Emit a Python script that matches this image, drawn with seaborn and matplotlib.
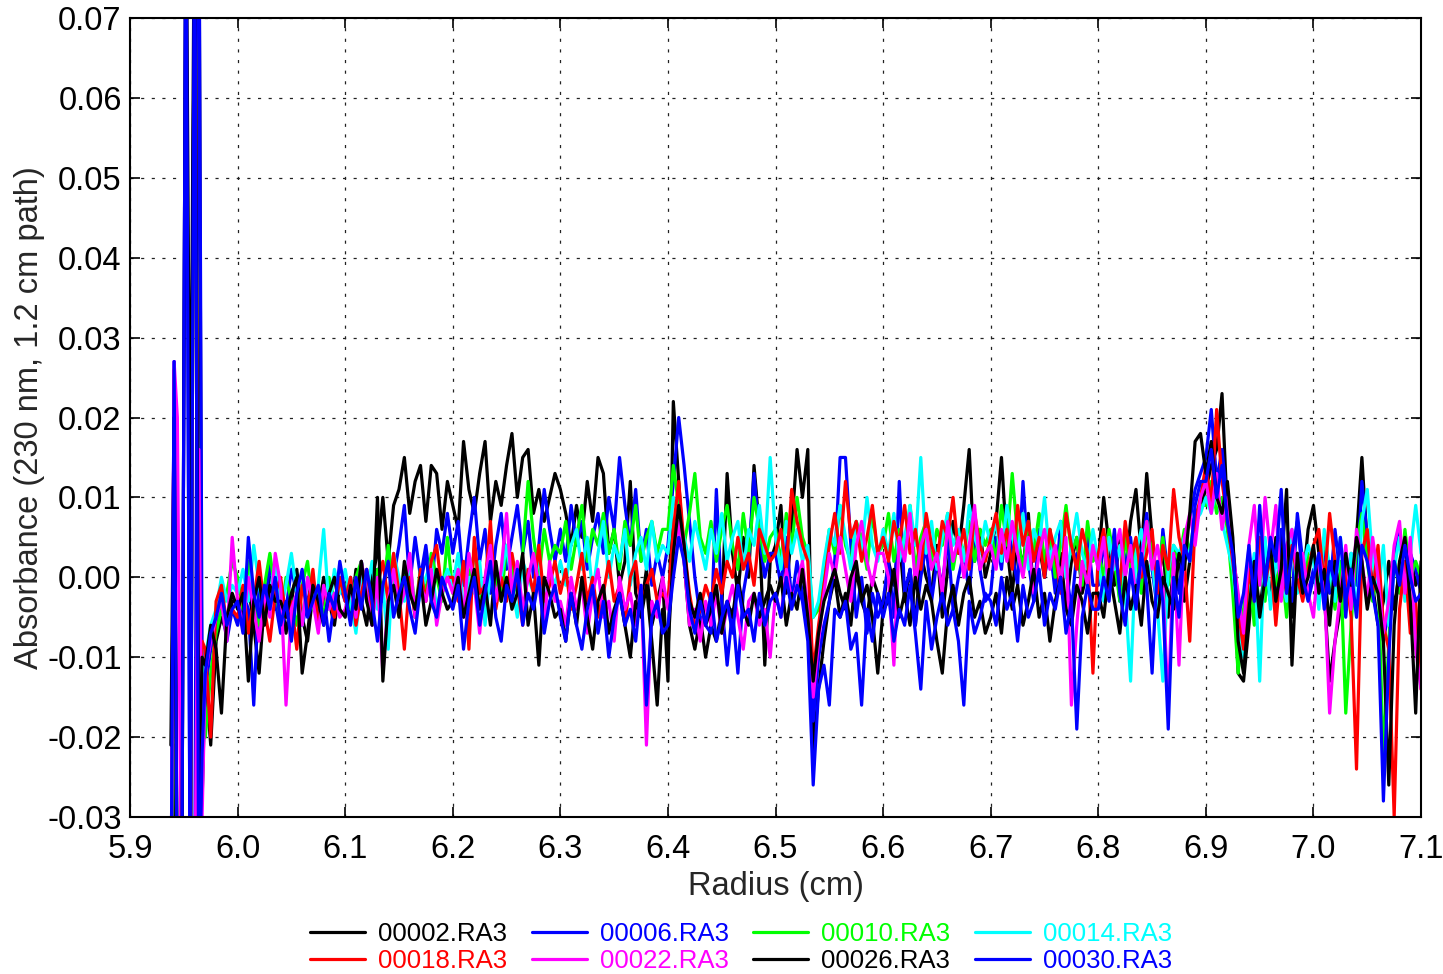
import numpy as np
import matplotlib
matplotlib.use("Agg")
import matplotlib.pyplot as plt
import seaborn as sns

# radius grid (cm)
radius = [5.938, 5.941, 5.944, 5.948, 5.952, 5.956, 5.960, 5.964, 5.967,
          5.970, 5.975, 5.980, 5.985, 5.990, 5.995,
          6.000, 6.005, 6.010, 6.015, 6.020, 6.025, 6.030, 6.035, 6.040, 6.045,
          6.050, 6.055, 6.060, 6.065, 6.070, 6.075, 6.080, 6.085, 6.090, 6.095,
          6.100, 6.105, 6.110, 6.115, 6.120, 6.125, 6.130, 6.135, 6.140, 6.145,
          6.150, 6.155, 6.160, 6.165, 6.170, 6.175, 6.180, 6.185, 6.190, 6.195,
          6.200, 6.205, 6.210, 6.215, 6.220, 6.225, 6.230, 6.235, 6.240, 6.245,
          6.250, 6.255, 6.260, 6.265, 6.270, 6.275, 6.280, 6.285, 6.290, 6.295,
          6.300, 6.305, 6.310, 6.315, 6.320, 6.325, 6.330, 6.335, 6.340, 6.345,
          6.350, 6.355, 6.360, 6.365, 6.370, 6.375, 6.380, 6.385, 6.390, 6.395,
          6.400, 6.405, 6.410, 6.415, 6.420, 6.425, 6.430, 6.435, 6.440, 6.445,
          6.450, 6.455, 6.460, 6.465, 6.470, 6.475, 6.480, 6.485, 6.490, 6.495,
          6.500, 6.505, 6.510, 6.515, 6.520, 6.525, 6.530, 6.535, 6.540, 6.545,
          6.550, 6.555, 6.560, 6.565, 6.570, 6.575, 6.580, 6.585, 6.590, 6.595,
          6.600, 6.605, 6.610, 6.615, 6.620, 6.625, 6.630, 6.635, 6.640, 6.645,
          6.650, 6.655, 6.660, 6.665, 6.670, 6.675, 6.680, 6.685, 6.690, 6.695,
          6.700, 6.705, 6.710, 6.715, 6.720, 6.725, 6.730, 6.735, 6.740, 6.745,
          6.750, 6.755, 6.760, 6.765, 6.770, 6.775, 6.780, 6.785, 6.790, 6.795,
          6.800, 6.805, 6.810, 6.815, 6.820, 6.825, 6.830, 6.835, 6.840, 6.845,
          6.850, 6.855, 6.860, 6.865, 6.870, 6.875, 6.880, 6.885, 6.890, 6.895,
          6.900, 6.905, 6.910, 6.915, 6.920, 6.925, 6.930, 6.935, 6.940, 6.945,
          6.950, 6.955, 6.960, 6.965, 6.970, 6.975, 6.980, 6.985, 6.990, 6.995,
          7.000, 7.005, 7.010, 7.015, 7.020, 7.025, 7.030, 7.035, 7.040, 7.045,
          7.050, 7.055, 7.060, 7.065, 7.070, 7.075, 7.080, 7.085, 7.090, 7.095,
          7.100]

# absorbance in milli-AU
a00002 = [-45, -21, -45, -45, -45, -45, 90, 90, -28,
          -12, -21, -8, -5, -7, -3,
          -3, -5, -1, -6, -12, -3, 0, -4, -2, -7, -3, 1, -5, -8, -2, -4, 0, -3, -6, -1,
          -2, -5, 1, -3, -6, 0, 3, 10, 2, 9, 11, 15, 8, 12, 14, 7, 14, 13, 6, 12,
          9, 6, 17, 11, 8, 13, 17, 7, 12, 9, 14, 18, 10, 15, 16, 8, 11, 7, 10, 13,
          11, 8, 4, 9, 5, 12, 7, 15, 13, 3, 6, -1, 2, 12, -2, -4, 1, -6, -3, 0,
          -13, 22, 12, 2, -6, -9, -5, -10, -6, -8, -4, 13, 3, -2, 5, 0, 14, 6, -11, 2,
          4, 9, -2, 6, 16, 10, 16, -22, -14, -8, -3, 0, -5, -2, -6, 1, -3, -5, 0, -2,
          -4, 2, -1, 5, -3, 1, -6, 3, 0, -2, 4, -5, 1, 7, 3, 9, 16, 2, 6, 0,
          3, 7, 15, 4, -2, 5, 1, 8, -3, 4, 0, 6, -1, 3, -4, 2, 5, -2, 1, 4,
          2, 10, 4, -1, 5, 0, 7, 11, 3, 13, 5, -2, 4, -5, 1, 3, -3, 2, 6, 9,
          11, 14, 16, 23, 8, 3, -12, -13, -6, 2, -4, 1, -3, 5, -2, 0, -5, 3, -1, 6,
          9, 3, -2, -13, -8, -4, 2, -3, 5, 15, 4, -1, -6, -3, 2, -4, 1, -2, 3, -1,
          1]
a00006 = [-45, 27, -45, -45, 90, -45, -45, 90, -12,
          -14, -9, -6, -3, -8, -4,
          -6, -2, -4, -16, -1, -5, 2, -3, -7, -4, 1, -2, -6, -3, 0, -5, -2, -8, -3, -1,
          -3, 0, -5, 2, -2, -6, 1, -3, 3, 0, 4, 9, -1, 5, 0, 4, -2, 6, 3, 8,
          3, 7, -1, 5, 10, 2, 6, -2, 4, 8, 1, 5, 9, 3, 7, 0, 4, 11, 6, 2,
          6, 2, 9, 4, 7, 1, 5, 8, 3, 10, 6, 15, 9, 4, 11, 2, 6, -1, 3, 0,
          4, 12, 20, 14, 7, 0, -5, -6, -7, 11, -3, -11, -4, -12, -2, 2, 13, 5, 0, 3,
          3, -1, 5, -3, 2, -2, -6, -18, -10, -6, -3, 2, 15, 15, 4, -5, 0, -7, -2, -5,
          -3, 2, -5, 12, -2, 1, -6, 0, 4, -3, 2, -1, 5, -4, 0, 3, -2, 6, 1, -3,
          -2, 5, 1, 8, 3, -1, 12, 2, -3, 6, 0, 4, -2, 7, 1, -4, 3, 0, 5, -1,
          -1, 4, 0, 6, -3, 2, 5, -2, 3, 8, 1, -4, 6, 0, 3, -2, 5, 7, 11, 13,
          15, 21, 12, 16, 9, 4, -3, -7, 2, -5, 4, -1, 3, -4, 6, 1, -3, 8, 2, -2,
          1, -3, 4, -2, 6, 0, -5, 3, -1, 12, 5, -2, 3, -8, -4, 2, 6, -1, 3, 1,
          -2]
a00010 = [-45, 10, -45, -45, -45, -45, 90, -20, -15,
          -20, -12, -7, -4, -2, 2,
          0, -4, 2, -3, -6, -1, 3, -2, -5, 0, -3, -6, -1, 2, -4, -2, -5, 0, -3, -1,
          -1, -4, 0, 2, -3, -5, 1, -2, 4, -1, -3, 0, 2, -4, 1, -2, 3, 0, -3, 5,
          -2, 1, -4, 0, 3, -1, -5, 2, 0, -3, 4, 1, -2, 3, 12, 5, 0, 6, 2, 4,
          3, 7, 1, 5, 9, 2, 6, 4, 8, 3, 6, 1, 7, 4, 9, 2, 5, 7, 3, 6,
          6, 14, 9, 4, 8, 13, 5, 3, 7, 2, 6, 9, 4, 1, 8, 3, 10, 6, 2, 5,
          6, 2, 8, 4, 10, 5, 3, -5, -4, 1, 6, 3, 9, 4, 2, 7, 5, 1, 8, 3,
          4, 8, 2, 6, 3, 9, 1, 5, 7, 2, 6, 4, 8, 1, 5, 3, 7, 2, 6, 4,
          6, 2, 9, 4, 13, 5, 1, 7, 3, 8, 2, 6, 0, 4, 9, 3, 5, -1, 7, 2,
          3, 0, 6, 2, -3, 5, 1, 4, -2, 7, 3, 0, 5, -1, 4, 2, 6, 3, 8, 9,
          9, 12, 8, 10, 6, -2, -12, -4, 1, -6, 3, -3, 5, -1, 2, -5, 4, 0, -2, 3,
          3, -2, 5, 1, -4, 2, -17, -6, 4, 8, 2, -3, 1, -23, -8, 3, -2, 6, 0, 2,
          0]
a00014 = [-45, 20, -45, -45, -45, -45, -45, -30, -12,
          -10, -6, -4, 0, -3, -1,
          -2, 1, -3, 4, -1, -5, -2, 2, -4, -1, 3, -2, -6, 0, -3, -1, 6, -4, 1, -2,
          1, -3, -7, 0, -2, 2, -4, -1, -9, 3, 0, -3, 1, -5, -2, 0, 2, -4, -1, 1,
          -1, 3, -4, 0, -2, 2, -6, 1, -3, 0, 4, -1, -5, 2, 0, -2, 3, -4, 1, -1,
          2, -1, 4, 6, 1, 5, -2, 3, 7, 0, 4, 2, 6, -1, 3, 5, 1, 7, 2, 4,
          3, 10, 8, 5, 2, 7, 4, 1, 6, 3, 8, 2, 5, 7, 1, 6, 4, 9, 3, 15,
          5, 1, 7, 3, 6, 2, 4, -5, -3, 2, 6, 4, 9, 5, 1, 7, 3, 10, 4, 2,
          6, 3, 8, 2, 5, 9, 4, 15, 3, 7, 1, 5, 8, 4, 6, 2, 9, 5, 3, 7,
          4, 7, 2, 9, 5, 3, 8, 1, 6, 4, 10, 2, 5, 7, 0, 4, 8, 3, 1, 6,
          2, -3, 5, 1, 4, -2, -13, 3, 6, 0, 2, -4, -13, 1, 4, 3, 5, 2, 7, 8,
          10, 8, 11, 7, 4, 1, -6, -10, -2, 3, -13, 5, -4, 2, 0, -3, 6, -2, 1, 4,
          2, -4, 6, 1, -3, 5, -1, 3, -5, 7, 11, 2, -2, 4, -6, 1, 5, -3, 3, 9,
          3]
a00018 = [-45, 26, -45, -45, -45, -45, 90, -20, -8,
          -9, -20, -3, -1, -6, -4,
          -5, -1, -7, -3, 2, -4, -8, -2, 0, -5, -3, -9, -1, -4, 1, -6, -2, -3, -5, 0,
          -3, 0, -6, -2, 1, -4, -1, 2, -3, 3, -2, -9, 0, -5, 1, -3, 2, 4, -2, 0,
          0, -3, 2, -9, 5, -2, -1, 7, -4, 0, -3, 3, -1, -6, 1, -2, 4, -3, -1, 2,
          -2, 1, -4, -1, 3, -3, 0, -5, -2, 2, -3, -1, -6, 0, 2, -4, -1, 1, -3, -2,
          -3, 6, 12, 4, -2, -6, -4, -1, -3, 1, -2, 2, 0, 5, 1, 3, -1, 6, 4, 2,
          3, 6, 1, 11, 7, 4, 2, -12, -6, -1, 4, 8, 3, 12, 5, 7, 2, 5, 9, 3,
          5, 2, 7, 4, 9, 3, 6, 1, 8, 4, 2, 7, 5, 10, 3, 6, 1, 8, 4, 2,
          5, 8, 3, 6, 1, 9, 4, 7, 2, 5, 0, 6, 3, -2, 8, 4, 1, 6, 3, -12,
          3, 6, 1, 4, -1, 7, 2, 5, 0, 3, 6, -2, 4, 1, 11, 5, 2, -8, 7, 10,
          14, 9, 21, 12, 7, 2, -4, -9, 1, -3, 5, -1, 3, -6, 2, -2, 4, 0, -3, 1,
          4, 6, -1, 8, 2, -3, 1, -5, -24, 3, 6, -2, 4, -6, -9, -30, -4, 2, -7, -3,
          -14]
a00022 = [-45, 27, 20, -45, -45, -45, -45, 16, -30,
          -12, -8, -5, -3, -8, 5,
          -3, -6, 0, -4, -8, -2, -5, 3, -1, -16, -4, -2, -6, 0, -3, -7, -1, -4, -2, -5,
          -4, -1, -5, 2, -2, -6, 0, -12, -3, 1, -4, -2, 3, -5, -1, -3, 1, -6, -2, 0,
          -2, 1, -5, 3, -1, -7, 0, 4, -3, 1, 8, -2, 2, -4, 0, 3, -1, -6, 2, -3,
          -3, -6, 0, -4, -1, -7, -2, 1, -5, -3, -8, 0, -4, -2, -6, -1, -21, -3, -5, 0,
          -4, 1, 7, 2, -6, -4, -8, -3, -6, -2, -7, -4, -1, -5, -9, -3, -2, -6, -4, -10,
          -2, -5, 1, -3, -1, 2, -4, -15, -8, -2, 3, 0, 5, 1, -3, 4, 7, 2, -1, 3,
          3, 0, -11, 5, 2, 8, -1, 4, 6, 1, 3, -2, 7, 2, 5, 0, 4, 9, 1, 3,
          4, 1, 6, 2, 7, 3, 0, 5, -2, 3, 6, 1, 4, -1, 5, -16, -6, 2, -1, 4,
          1, 5, -2, 3, 6, 0, 4, -3, 2, 7, 1, 4, -1, -16, 3, -11, 5, 8, 4, 10,
          12, 8, 13, 6, 10, 3, -2, -7, 4, 9, -1, 10, 3, 9, -3, 4, 6, 0, 3, -2,
          -5, 3, -1, -17, -8, -2, 4, -4, 6, 2, -3, 5, 0, -7, -3, 4, 7, -2, 5, -9,
          -14]
a00026 = [-21, 20, -45, -45, 90, 2, 90, -27, -10,
          -11, -6, -9, -17, -5, -2,
          -4, -2, -13, -3, 0, -6, -1, -3, -3, -5, -2, 0, -12, -7, -1, -3, -6, -2, 0, -4,
          -5, -1, -4, 2, -3, -6, 10, -13, -3, -1, -5, 2, -2, -4, 0, -6, -3, 1, -2, -4,
          -3, 0, -5, -2, 1, -4, -1, -6, 2, -3, 0, -4, -2, 3, -6, -2, -11, 0, -2, -5,
          -4, -8, -2, -6, 0, -5, -9, -3, -1, -7, -4, -2, -6, -10, -3, -5, -1, -8, -16, -4,
          -9, 3, 9, 4, -3, -5, -2, -6, -4, -1, -7, -3, -5, 0, -4, -6, -2, -5, -3, -1,
          -3, 0, -6, -2, -4, 1, -5, -13, -7, -3, -1, 1, -2, -4, 0, 2, -3, -1, -5, -12,
          -4, -3, 1, -5, -2, -6, 0, -4, -1, -3, -8, -12, -4, -1, -6, -2, 0, -5, -3, -7,
          -5, -2, -7, 0, -4, -1, -6, -3, 1, -5, -2, -8, -3, 0, -4, -6, -1, -3, -7, -2,
          -2, -5, 1, -3, -7, 0, -4, -1, -6, 2, -3, -5, 0, -2, -4, 3, 1, 8, 17, 18,
          13, 17, 10, 8, 12, 5, -8, -12, -4, 2, -5, 0, 4, -3, 1, 11, -11, 3, -2, 0,
          4, -2, 1, -6, 2, -3, 3, -1, 5, 2, -4, 0, -2, -8, -26, -6, 2, 5, -3, -17,
          2]
a00030 = [-45, 27, -45, -45, 90, -45, 90, -45, -22,
          -12, -7, -5, -2, -6, -4,
          -3, -7, 5, -2, -5, -1, -4, 0, -6, -3, -8, -2, 1, -5, -3, -1, -6, -2, -4, 2,
          -2, -6, 0, -4, 1, -3, -8, -1, 2, -5, -2, 0, -4, -7, -1, 3, -3, -5, 0, -2,
          -4, -1, -9, -3, 0, -6, -2, 2, -5, -8, -1, -3, 1, -6, -2, -4, 0, -7, -3, -1,
          -5, -8, -2, -6, -9, -4, -1, -7, -3, -10, -5, -2, -6, -4, -8, -1, -16, -5, -3, -7,
          -6, 0, 5, 2, -4, -7, -3, -6, -2, -8, -5, -3, -7, -1, -5, -4, -8, -2, -6, -3,
          -2, -5, 0, -4, -1, -3, -8, -26, -14, -11, -16, -4, -5, -3, -9, -7, -16, -4, -8, -2,
          -5, -2, -8, -4, -6, -1, -7, -14, -3, -9, -5, -2, -6, -4, -8, -16, -3, -7, -5, -2,
          -3, -6, 0, -4, -2, -8, -1, -5, -3, 1, -6, -2, -4, 0, -7, -3, -19, -5, -1, -4,
          -4, 0, -3, 5, -2, -6, 1, -4, 3, -1, -12, 2, -3, -19, 0, -5, 4, 2, 9, 12,
          12, 16, 10, 14, 7, 3, -5, -2, 4, -3, 9, -1, 5, 2, 11, -2, 3, 7, 0, -3,
          0, 3, -4, 2, -1, 5, -3, 1, -5, 4, 2, -2, -6, -28, -10, 2, -1, 4, 0, -3,
          -2]

labels = ['00002.RA3', '00006.RA3', '00010.RA3', '00014.RA3',
          '00018.RA3', '00022.RA3', '00026.RA3', '00030.RA3']
series = [a00002, a00006, a00010, a00014, a00018, a00022, a00026, a00030]
colors = ['#000000', '#0000ff', '#00ff00', '#00ffff',
          '#ff0000', '#ff00ff', '#000000', '#0000ff']

x_ticks = [5.9, 6.0, 6.1, 6.2, 6.3, 6.4, 6.5, 6.6, 6.7, 6.8, 6.9, 7.0, 7.1]
y_ticks = [-0.03, -0.02, -0.01, 0.00, 0.01, 0.02, 0.03, 0.04, 0.05, 0.06, 0.07]

sns.set_theme(style='ticks')
plt.rcParams['font.family'] = ['Liberation Sans', 'DejaVu Sans']

fig = plt.figure(figsize=(14.43, 9.74), dpi=100)
ax = fig.add_axes([0.0901, 0.1612, 0.8947, 0.8203])

for lab, vals, col in zip(labels, series, colors):
    y = np.array(vals) / 1000.0
    assert len(y) == len(radius), lab
    sns.lineplot(x=radius, y=y, color=col, linewidth=2.3, label=lab,
                 estimator=None, sort=False, ax=ax)

ax.set_xlim(5.9, 7.1)
ax.set_ylim(-0.03, 0.07)
ax.set_xticks(x_ticks)
ax.set_xticklabels(['%.1f' % v for v in x_ticks])
ax.set_yticks(y_ticks)
ax.set_yticklabels(['%.2f' % v if v >= 0 else '-%.2f' % abs(v) for v in y_ticks])
ax.tick_params(direction='in', length=7, width=1.2, top=True, right=True,
               labelsize=23.5, colors='black')
ax.tick_params(axis='x', pad=12)
ax.tick_params(axis='y', pad=6)
ax.grid(True, color='#222222', linestyle=(0, (2.5, 6)), linewidth=0.9)
ax.set_axisbelow(True)
for sp in ax.spines.values():
    sp.set_color('black')
    sp.set_linewidth(1.5)

ax.set_xlabel('Radius (cm)', fontsize=23.5)
ax.set_ylabel('Absorbance (230 nm, 1.2 cm path)', fontsize=23.5)
ax.xaxis.set_label_coords(0.5, -0.068)
ax.yaxis.set_label_coords(-0.066, 0.5)

# legend fills row by row in the reference
handles, labs = ax.get_legend_handles_labels()
ax.get_legend().remove()
order = [0, 4, 1, 5, 2, 6, 3, 7]
leg = fig.legend([handles[i] for i in order], [labs[i] for i in order],
                 loc='center', bbox_to_anchor=(0.5135, 0.0272),
                 ncol=4, frameon=False, fontsize=18.5, handlelength=2.15,
                 handletextpad=0.5, columnspacing=0.95, labelspacing=0.15,
                 borderpad=0.1)
for txt, i in zip(leg.get_texts(), order):
    txt.set_color(colors[i])

fig.savefig('out.png', dpi=100)
